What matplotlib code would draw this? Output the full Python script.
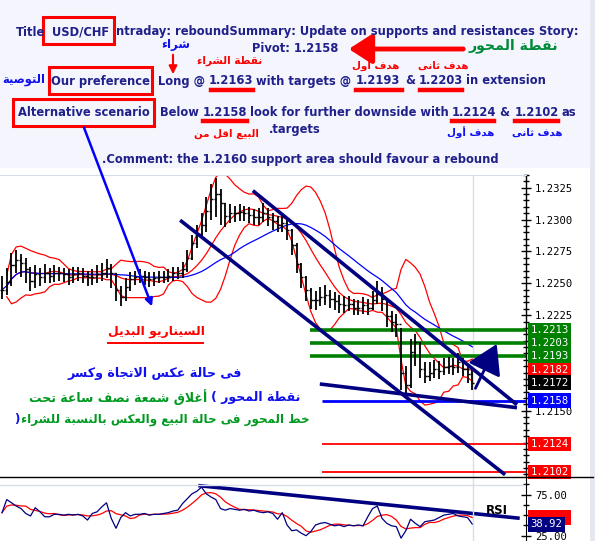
import numpy as np
import pandas as pd
import matplotlib.pyplot as plt
import matplotlib.patches as patches
from matplotlib.lines import Line2D
from matplotlib.transforms import blended_transform_factory

W, H = 595, 541

# ---- price bars (half-hour USD/CHF) ----
closes = [1.2245, 1.2251, 1.2264, 1.2268, 1.2266, 1.2261, 1.2252, 1.2257, 1.2255, 1.2258,
          1.2256, 1.2258, 1.2258, 1.2257, 1.2255, 1.2257, 1.2258, 1.2256, 1.2255, 1.2255,
          1.2257, 1.2258, 1.2262, 1.2258, 1.2245, 1.2239, 1.2247, 1.2253, 1.2255, 1.2256,
          1.2255, 1.2253, 1.2254, 1.2255, 1.2255, 1.2256, 1.2258, 1.2258, 1.2261, 1.2270,
          1.2282, 1.2289, 1.2296, 1.2307, 1.2316, 1.2320, 1.2313, 1.2303, 1.2305, 1.2305,
          1.2306, 1.2305, 1.2304, 1.2302, 1.2302, 1.2305, 1.2302, 1.2299, 1.2296, 1.2297,
          1.2292, 1.2280, 1.2265, 1.2255, 1.2245, 1.2237, 1.2237, 1.2239, 1.2241, 1.2238,
          1.2236, 1.2234, 1.2233, 1.2234, 1.2231, 1.2231, 1.2233, 1.2231, 1.2237, 1.2242,
          1.2238, 1.2224, 1.2220, 1.2218, 1.2180, 1.2170, 1.2196, 1.2204, 1.2183, 1.2177,
          1.2180, 1.2183, 1.2181, 1.2184, 1.2185, 1.2184, 1.2188, 1.2183, 1.2179, 1.2172]
highs = [1.2256, 1.2262, 1.2274, 1.2276, 1.2273, 1.2270, 1.2263, 1.2264, 1.2262, 1.2265,
         1.2262, 1.2264, 1.2263, 1.2262, 1.2261, 1.2263, 1.2263, 1.2262, 1.2260, 1.2261,
         1.2264, 1.2266, 1.2269, 1.2265, 1.2258, 1.2248, 1.2254, 1.2259, 1.2260, 1.2261,
         1.2260, 1.2259, 1.2259, 1.2260, 1.2260, 1.2261, 1.2263, 1.2263, 1.2267, 1.2276,
         1.2288, 1.2296, 1.2305, 1.2318, 1.2328, 1.2333, 1.2324, 1.2313, 1.2312, 1.2311,
         1.2312, 1.2311, 1.2310, 1.2308, 1.2309, 1.2313, 1.2309, 1.2305, 1.2303, 1.2303,
         1.2300, 1.2293, 1.2282, 1.2266, 1.2256, 1.2246, 1.2244, 1.2247, 1.2249, 1.2245,
         1.2243, 1.2241, 1.2240, 1.2240, 1.2238, 1.2237, 1.2239, 1.2238, 1.2244, 1.2252,
         1.2247, 1.2236, 1.2228, 1.2226, 1.2215, 1.2185, 1.2206, 1.2210, 1.2204, 1.2188,
         1.2188, 1.2190, 1.2189, 1.2191, 1.2192, 1.2191, 1.2195, 1.2191, 1.2186, 1.2182]
lows = [1.2238, 1.2241, 1.2248, 1.2258, 1.2255, 1.2250, 1.2244, 1.2246, 1.2248, 1.2250,
        1.2250, 1.2251, 1.2252, 1.2251, 1.2249, 1.2250, 1.2252, 1.2250, 1.2248, 1.2249,
        1.2250, 1.2252, 1.2254, 1.2246, 1.2236, 1.2232, 1.2236, 1.2244, 1.2249, 1.2250,
        1.2249, 1.2247, 1.2248, 1.2250, 1.2250, 1.2251, 1.2252, 1.2253, 1.2254, 1.2259,
        1.2268, 1.2278, 1.2285, 1.2290, 1.2300, 1.2302, 1.2296, 1.2294, 1.2297, 1.2298,
        1.2299, 1.2299, 1.2297, 1.2296, 1.2296, 1.2298, 1.2295, 1.2292, 1.2290, 1.2290,
        1.2284, 1.2272, 1.2258, 1.2246, 1.2236, 1.2230, 1.2229, 1.2232, 1.2233, 1.2231,
        1.2229, 1.2227, 1.2227, 1.2228, 1.2225, 1.2225, 1.2226, 1.2225, 1.2229, 1.2234,
        1.2228, 1.2216, 1.2212, 1.2208, 1.2166, 1.2163, 1.2168, 1.2185, 1.2176, 1.2172,
        1.2173, 1.2176, 1.2175, 1.2178, 1.2179, 1.2178, 1.2180, 1.2177, 1.2172, 1.2166]
rsi = [53, 69, 65, 61, 58, 52, 49, 59, 54, 48,
       48, 51, 51, 50, 51, 50, 51, 49, 44, 52,
       54, 60, 65, 46, 34, 47, 53, 49, 51, 51,
       52, 50, 51, 51, 52, 53, 55, 56, 64, 70,
       76, 79, 84, 76, 72, 69, 58, 56, 58, 57,
       56, 57, 55, 56, 54, 53, 54, 52, 45, 53,
       38, 31, 32, 28, 25, 30, 38, 40, 41, 39,
       37, 38, 36, 38, 37, 38, 37, 48, 58, 61,
       46, 40, 37, 36, 22, 31, 45, 40, 36, 42,
       43, 44, 47, 50, 51, 52, 49, 48, 47, 39]

# ---- levels and analyst lines ----
up_targets = [1.2213, 1.2203, 1.2193]
pivot = 1.2158
down_targets = [1.2124, 1.2102]
last_price = 1.2172
band_value = 1.2182
rsi_last = 38.92
price_ticks = [1.2150, 1.2225, 1.2250, 1.2275, 1.2300, 1.2325]

trend_upper = [(52.8, 1.23227), (108.4, 1.21547)]
trend_lower = [(37.5, 1.22995), (105.9, 1.20998)]
trend_support = [(66.9, 1.21710), (108.4, 1.21524)]
rebound_arrow = [(99.4, 1.21656), (104.4, 1.22043)]
rsi_trend = [(41.7, 85.7), (108.6, 46.4)]
green_start = 64.8
level_start = 67.4

NAVY = '#20208a'
AR_BLUE = '#1010ee'
AR_GREEN = '#009a20'

# ---- tiny Arabic shaper (presentation forms + visual order) ----
AR_FORMS = {
    '\u0621': (0xFE80, None, None, None), '\u0623': (0xFE83, 0xFE84, None, None),
    '\u0627': (0xFE8D, 0xFE8E, None, None), '\u0628': (0xFE8F, 0xFE90, 0xFE91, 0xFE92),
    '\u0629': (0xFE93, 0xFE94, None, None), '\u062A': (0xFE95, 0xFE96, 0xFE97, 0xFE98),
    '\u062B': (0xFE99, 0xFE9A, 0xFE9B, 0xFE9C), '\u062C': (0xFE9D, 0xFE9E, 0xFE9F, 0xFEA0),
    '\u062D': (0xFEA1, 0xFEA2, 0xFEA3, 0xFEA4), '\u062E': (0xFEA5, 0xFEA6, 0xFEA7, 0xFEA8),
    '\u062F': (0xFEA9, 0xFEAA, None, None), '\u0631': (0xFEAD, 0xFEAE, None, None),
    '\u0633': (0xFEB1, 0xFEB2, 0xFEB3, 0xFEB4), '\u0634': (0xFEB5, 0xFEB6, 0xFEB7, 0xFEB8),
    '\u0635': (0xFEB9, 0xFEBA, 0xFEBB, 0xFEBC), '\u0637': (0xFEC1, 0xFEC2, 0xFEC3, 0xFEC4),
    '\u0639': (0xFEC9, 0xFECA, 0xFECB, 0xFECC), '\u063A': (0xFECD, 0xFECE, 0xFECF, 0xFED0),
    '\u0641': (0xFED1, 0xFED2, 0xFED3, 0xFED4), '\u0642': (0xFED5, 0xFED6, 0xFED7, 0xFED8),
    '\u0643': (0xFED9, 0xFEDA, 0xFEDB, 0xFEDC), '\u0644': (0xFEDD, 0xFEDE, 0xFEDF, 0xFEE0),
    '\u0645': (0xFEE1, 0xFEE2, 0xFEE3, 0xFEE4), '\u0646': (0xFEE5, 0xFEE6, 0xFEE7, 0xFEE8),
    '\u0647': (0xFEE9, 0xFEEA, 0xFEEB, 0xFEEC), '\u0648': (0xFEED, 0xFEEE, None, None),
    '\u0649': (0xFEEF, 0xFEF0, None, None), '\u064A': (0xFEF1, 0xFEF2, 0xFEF3, 0xFEF4),
    'LA': (0xFEFB, 0xFEFC, None, None), 'LAH': (0xFEF7, 0xFEF8, None, None),
}


def ar(s):
    units, i = [], 0
    while i < len(s):
        c = s[i]
        if c == '\u0644' and i + 1 < len(s) and s[i + 1] in '\u0627\u0623':
            units.append('LA' if s[i + 1] == '\u0627' else 'LAH')
            i += 2
        else:
            units.append(c)
            i += 1
    out = []
    for k, u in enumerate(units):
        f = AR_FORMS.get(u)
        if f is None:
            out.append(u)
            continue
        prev = AR_FORMS.get(units[k - 1]) if k > 0 else None
        nxt = AR_FORMS.get(units[k + 1]) if k + 1 < len(units) else None
        jp = prev is not None and prev[2] is not None
        jn = f[2] is not None and nxt is not None and nxt[1] is not None
        if jp and jn:
            cp = f[3]
        elif jp:
            cp = f[1] if f[1] else f[0]
        elif jn:
            cp = f[2]
        else:
            cp = f[0]
        out.append(chr(cp))
    return ''.join(reversed(out))


def fx(x):
    return x / W


def fy(y):
    return 1 - y / H


fig = plt.figure(figsize=(W / 100, H / 100), dpi=100, facecolor='white')
fig.patches.append(patches.Rectangle((0, fy(168)), 1, 168 / H, transform=fig.transFigure,
                                     fc='#f4f5fd', ec='none', zorder=0))
fig.patches.append(patches.Rectangle((fx(590), 0), 5 / W, 1, transform=fig.transFigure,
                                     fc='#e6e8f0', ec='none', zorder=0))

# ---- header text ----
header = [
    ("Title", 16, 32), ("USD/CHF", 52, 32),
    ("ntraday: reboundSummary: Update on supports and resistances Story:", 116, 32),
    ("Pivot: 1.2158", 252, 48),
    ("Our preference", 51, 81), ("Long @", 158, 81), ("1.2163", 209, 81),
    ("with targets @", 256, 81), ("1.2193", 356, 81), ("&", 405, 81),
    ("1.2203", 419, 81), ("in extension", 466, 81),
    ("Alternative scenario", 18, 113), ("Below", 160, 113), ("1.2158", 203, 113),
    ("look for further downside with", 250, 113), ("1.2124", 452, 113), ("&", 499, 113),
    ("1.2102", 515, 113), ("as", 562, 113),
    (".targets", 269, 129),
    (".Comment: the 1.2160 support area should favour a rebound", 102, 160),
]
for s, x, y in header:
    fig.text(fx(x), fy(y), s, ha='left', va='center', color=NAVY,
             fontsize=8.3, fontweight='bold', family='DejaVu Sans')

for x0, y0, x1, y1 in [(43, 17, 114, 44), (49, 67, 152, 94), (13, 99, 154, 126)]:
    fig.patches.append(patches.Rectangle((fx(x0), fy(y1)), (x1 - x0) / W, (y1 - y0) / H,
                                         transform=fig.transFigure, fill=False,
                                         ec='red', lw=2.2))
for x0, x1, y in [(211, 253, 90), (356, 402, 90), (420, 462, 90),
                  (203, 247, 121), (452, 494, 121), (515, 558, 121)]:
    fig.add_artist(Line2D([fx(x0), fx(x1)], [fy(y), fy(y)], color='red', lw=3.2,
                          transform=fig.transFigure))


def artext(s, x, y, color, size, ha='center'):
    return fig.text(fx(x), fy(y), ar(s), ha=ha, va='center', color=color,
                    fontsize=size, fontweight='bold', family='DejaVu Sans')


artext('شراء', 176, 45, AR_BLUE, 8.5)
artext('نقطة الشراء', 230, 61, 'red', 7.6)
artext('التوصية', 24, 79, AR_BLUE, 8.3)
artext('البيع اقل من', 226, 134, 'red', 7.4)
artext('نقطة المحور', 513, 46, '#008a3a', 10.2)
artext('هدف اول', 376, 66, 'red', 7.4)
artext('هدف ثانى', 443, 66, 'red', 7.4)
artext('هدف أول', 471, 133, AR_BLUE, 7.4)
artext('هدف ثانى', 537, 133, AR_BLUE, 7.4)

fig.add_artist(plt.Annotation('', xy=(fx(173), fy(77)), xytext=(fx(173), fy(52)),
                              xycoords='figure fraction', textcoords='figure fraction',
                              arrowprops=dict(arrowstyle='-|>', color='red', lw=1.5,
                                              mutation_scale=12)))
fig.add_artist(plt.Annotation('', xy=(fx(346), fy(49)), xytext=(fx(466), fy(49)),
                              xycoords='figure fraction', textcoords='figure fraction',
                              arrowprops=dict(arrowstyle='-|>,head_length=0.7,head_width=0.45',
                                              color='red', lw=3.5, mutation_scale=20)))

# ---- price panel ----
ax = fig.add_axes([0, fy(477), 526 / W, (477 - 175) / H])
ax_r = fig.add_axes([0, 0, 526 / W, 64 / H])

x = np.arange(len(closes))
s = pd.Series(closes)
mid = s.rolling(10, min_periods=2).mean()
sd = s.rolling(10, min_periods=2).std()
ma_long = s.rolling(25, min_periods=1).mean()
opens = [closes[0]] + closes[:-1]

ax.plot(x, mid + 2 * sd, color='red', lw=0.9)
ax.plot(x, mid - 2 * sd, color='red', lw=0.9)
ax.plot(x, mid, color='red', lw=0.9)
ax.plot(x, ma_long, color='#0000ff', lw=0.9)
ax.vlines(x, lows, highs, colors='black', lw=1.3, zorder=3)
ax.hlines(opens, x - 0.45, x, colors='black', lw=1, zorder=3)
ax.hlines(closes, x, x + 0.45, colors='black', lw=1, zorder=3)

for lvl in up_targets:
    ax.hlines(lvl, green_start, 111, colors='#008000', lw=2.6, zorder=2)
for lvl in down_targets:
    ax.hlines(lvl, level_start, 111, colors='red', lw=1.3, zorder=2)
ax.hlines(pivot, level_start, 111, colors='#0000ff', lw=2, zorder=2)

for line in (trend_upper, trend_lower, trend_support):
    ax.plot([p[0] for p in line], [p[1] for p in line], color='#000080', lw=2.6,
            solid_capstyle='butt', zorder=4)
ax.annotate('', xy=rebound_arrow[1], xytext=rebound_arrow[0],
            arrowprops=dict(arrowstyle='-|>,head_length=0.9,head_width=0.55',
                            color='#000080', lw=2, mutation_scale=20), zorder=5)
ax.axvline(99.2, color='#d8dee8', lw=1, zorder=1)

ax.set_xlim(-0.42, 110.3)
ax.set_ylim(1.2098, 1.2332)
ax.set_xticks([])
ax.yaxis.tick_right()
ax.set_yticks(price_ticks)
ax.set_yticklabels([f'{t:.4f}' for t in price_ticks], family='DejaVu Sans Mono', fontsize=7.6)
ax.set_yticks(np.arange(1.2100, 1.2335, 0.0005), minor=True)
ax.tick_params(axis='y', which='major', direction='inout', length=7, width=1, pad=3)
ax.tick_params(axis='y', which='minor', direction='inout', length=4, width=1)
for side in ('left', 'bottom'):
    ax.spines[side].set_visible(False)
ax.spines['top'].set_color('#d8dee8')
ax.spines['right'].set_linewidth(1)

tr = blended_transform_factory(ax.transAxes, ax.transData)
price_labels = [(up_targets[0], '#008000'), (up_targets[1], '#008000'),
                (up_targets[2], '#008000'), (band_value, 'red'), (last_price, 'black'),
                (pivot, '#0000ff'), (down_targets[0], 'red'), (down_targets[1], 'red')]
for val, col in price_labels:
    ax.text(1.009, val, f'{val:.4f}', transform=tr, ha='left', va='center', color='white',
            family='DejaVu Sans Mono', fontsize=7.6, clip_on=False, zorder=10,
            bbox=dict(boxstyle='square,pad=0.22', fc=col, ec='none'))

# ---- RSI panel ----
rsi_s = pd.Series(rsi)
rsi_sig = rsi_s.rolling(5, min_periods=1).mean()
ax_r.plot(x, rsi_sig, color='red', lw=0.9)
ax_r.plot(x, rsi_s, color='#000080', lw=0.9)
ax_r.plot([p[0] for p in rsi_trend], [p[1] for p in rsi_trend], color='#000080', lw=2.6)
ax_r.axhline(87, color='#d8dee8', lw=1)
ax_r.axvline(99.2, color='#d8dee8', lw=1)
ax_r.text(104.2, 56, 'RSI', fontsize=8.5, fontweight='bold', ha='center', va='center')
ax_r.set_xlim(-0.42, 110.3)
ax_r.set_ylim(18.5, 96.4)
ax_r.set_xticks([])
ax_r.yaxis.tick_right()
ax_r.set_yticks([25, 75])
ax_r.set_yticklabels(['25.00', '75.00'], family='DejaVu Sans Mono', fontsize=7.6)
ax_r.set_yticks([37.5, 50, 62.5, 87.5], minor=True)
ax_r.tick_params(axis='y', which='major', direction='inout', length=7, width=1, pad=3)
ax_r.tick_params(axis='y', which='minor', direction='inout', length=4, width=1)
for side in ('left', 'bottom', 'top'):
    ax_r.spines[side].set_visible(False)
tr_r = blended_transform_factory(ax_r.transAxes, ax_r.transData)
ax_r.text(1.009, rsi_sig.iloc[-1], '      ', transform=tr_r, ha='left', va='center',
          family='DejaVu Sans Mono', fontsize=7.6, clip_on=False, zorder=9,
          bbox=dict(boxstyle='square,pad=0.22', fc='red', ec='none'))
ax_r.text(1.009, rsi_last, f'{rsi_last:.2f}', transform=tr_r, ha='left', va='center',
          color='white', family='DejaVu Sans Mono', fontsize=7.6, clip_on=False, zorder=10,
          bbox=dict(boxstyle='square,pad=0.22', fc='#000080', ec='none'))

fig.add_artist(Line2D([0, fx(593)], [fy(477), fy(477)], color='black', lw=1,
                      transform=fig.transFigure))

# ---- annotations in the chart ----
fig.add_artist(plt.Annotation('', xy=(fx(153), fy(309)), xytext=(fx(83), fy(125)),
                              xycoords='figure fraction', textcoords='figure fraction',
                              arrowprops=dict(arrowstyle='-|>', color='#0000ff', lw=1.8,
                                              mutation_scale=11)))
artext('السيناريو البديل', 156, 332, 'red', 8.9)
fig.add_artist(Line2D([fx(108), fx(203)], [fy(343), fy(343)], color='red', lw=1.4,
                      transform=fig.transFigure))
artext('فى حالة عكس الاتجاة وكسر', 155, 374, AR_BLUE, 9.1)
t_blue = artext('نقطة المحور (', 300, 397, AR_BLUE, 9, ha='right')
t_green2 = artext('خط المحور فى حالة البيع والعكس بالنسبة للشراء', 310, 420, AR_GREEN, 8.6,
                  ha='right')
fig.canvas.draw()
rend = fig.canvas.get_renderer()
bb = t_blue.get_window_extent(rend)
fig.text((bb.x0 - 3) / W, fy(397), ar('أغلاق شمعة نصف ساعة تحت'), ha='right', va='center',
         color=AR_GREEN, fontsize=9, fontweight='bold', family='DejaVu Sans')
bb2 = t_green2.get_window_extent(rend)
fig.text((bb2.x0 - 2) / W, fy(420), ')', ha='right', va='center', color=AR_BLUE,
         fontsize=8.6, fontweight='bold', family='DejaVu Sans')

fig.savefig('out.png', dpi=100, facecolor='white')
